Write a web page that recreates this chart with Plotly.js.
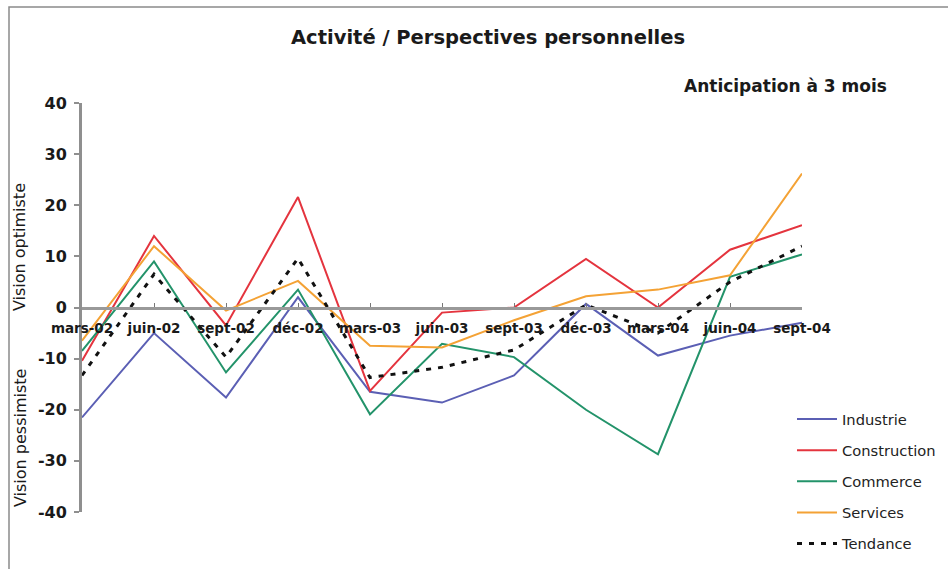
<!DOCTYPE html>
<html>
<head>
<meta charset="utf-8">
<script src="https://cdn.plot.ly/plotly-3.0.1.min.js"></script>
<style>html,body{margin:0;padding:0;background:#fff;}#chart{width:948px;height:569px;}</style>
</head>
<body>
<div id="chart"></div>
<script>
// ---- data ----
const categories = ['mars-02','juin-02','sept-02','déc-02','mars-03','juin-03','sept-03','déc-03','mars-04','juin-04','sept-04'];
const industrie    = [-21.5, -5.0, -17.6,  2.0, -16.5, -18.6, -13.3,   0.7,  -9.4, -5.5, -3.0];
const construction = [-10.4, 14.0,  -3.5, 21.6, -16.3,  -1.0,   0.0,   9.5,   0.0, 11.3, 16.1];
const commerce     = [ -8.5,  9.0, -12.7,  3.5, -20.9,  -7.1,  -9.7, -20.0, -28.7,  6.0, 10.4];
const services     = [ -6.5, 12.0,  -0.6,  5.2,  -7.5,  -7.8,  -2.5,   2.2,   3.5,  6.3, 26.2];
const tendance     = [-13.3,  6.5,  -9.7,  9.6, -13.7, -11.7,  -8.3,   0.5,  -5.0,  5.0, 12.0];
const seriesNames  = ['Industrie','Construction','Commerce','Services','Tendance'];
const yTicks       = [-40, -30, -20, -10, 0, 10, 20, 30, 40];

const colors = ['#5b5fb4', '#e4343e', '#23936a', '#f4a235', '#111111'];
const values = [industrie, construction, commerce, services, tendance];

const traces = values.map((v, i) => ({
  type: 'scatter',
  mode: 'lines',
  x: categories,
  y: v,
  name: seriesNames[i],
  legendgroup: 'g' + i,
  line: i === 4
    ? {color: colors[i], width: 3, dash: '5px,7px'}
    : {color: colors[i], width: 2}
}));

const FONT = 'DejaVu Sans, Arial, sans-serif';

const layout = {
  width: 948, height: 569,
  margin: {l: 82, r: 146, t: 103, b: 57, autoexpand: false},
  paper_bgcolor: '#ffffff',
  plot_bgcolor: '#ffffff',
  showlegend: true,
  title: {
    text: '<b>Activité / Perspectives personnelles</b>',
    font: {family: FONT, size: 19.5, color: '#1a1a1a'},
    xref: 'paper', x: 0.564, xanchor: 'center',
    yref: 'container', y: 1 - 37/569, yanchor: 'middle'
  },
  xaxis: {
    type: 'category',
    categoryorder: 'array', categoryarray: categories,
    range: [0, categories.length - 1],
    anchor: 'free', position: 0.5,
    showline: true, linecolor: '#999999', linewidth: 3,
    ticks: 'inside', ticklen: 4, tickcolor: '#777777', tickwidth: 1,
    showgrid: false, zeroline: false,
    tickfont: {family: FONT, size: 13.5, color: '#1a1a1a', weight: 'bold'},
    ticklabelstandoff: 7,
    fixedrange: true
  },
  yaxis: {
    range: [-40, 40],
    tickvals: yTicks,
    ticktext: yTicks.map(String),
    showline: true, linecolor: '#8f8f8f', linewidth: 3,
    ticks: 'outside', ticklen: 5, tickcolor: '#8f8f8f', tickwidth: 2,
    showgrid: false, zeroline: false,
    tickfont: {family: FONT, size: 16, color: '#1a1a1a', weight: 'bold'},
    ticklabelstandoff: 4,
    fixedrange: true
  },
  legend: {
    x: (792 - 82)/720, xanchor: 'left',
    y: 1 - (403 - 103)/409, yanchor: 'top',
    font: {family: FONT, size: 14.7, color: '#222222'},
    bgcolor: 'rgba(0,0,0,0)',
    tracegroupgap: 9,
    itemwidth: 40
  },
  annotations: [
    {
      text: '<b>Anticipation à 3 mois</b>',
      xref: 'paper', yref: 'paper',
      x: (889 - 82)/720, xanchor: 'right',
      y: (512 - 86)/409, yanchor: 'middle',
      showarrow: false,
      font: {family: FONT, size: 17, color: '#1a1a1a'}
    },
    {
      text: 'Vision optimiste',
      xref: 'paper', yref: 'paper',
      x: (20 - 82)/720, xanchor: 'center',
      y: (512 - 247)/409, yanchor: 'middle',
      textangle: -90, showarrow: false,
      font: {family: FONT, size: 16, color: '#1a1a1a'}
    },
    {
      text: 'Vision pessimiste',
      xref: 'paper', yref: 'paper',
      x: (20 - 82)/720, xanchor: 'center',
      y: (512 - 438)/409, yanchor: 'middle',
      textangle: -90, showarrow: false,
      font: {family: FONT, size: 16, color: '#1a1a1a'}
    }
  ],
  shapes: [
    {
      type: 'rect', xref: 'paper', yref: 'paper',
      x0: (9 - 82)/720, x1: (1000 - 82)/720,
      y0: (512 - 620)/409, y1: (512 - 7)/409,
      line: {color: '#8a8a8a', width: 1.5},
      fillcolor: 'rgba(0,0,0,0)',
      layer: 'below'
    }
  ]
};

Plotly.newPlot('chart', traces, layout, {displayModeBar: false, staticPlot: true});
</script>
</body>
</html>
